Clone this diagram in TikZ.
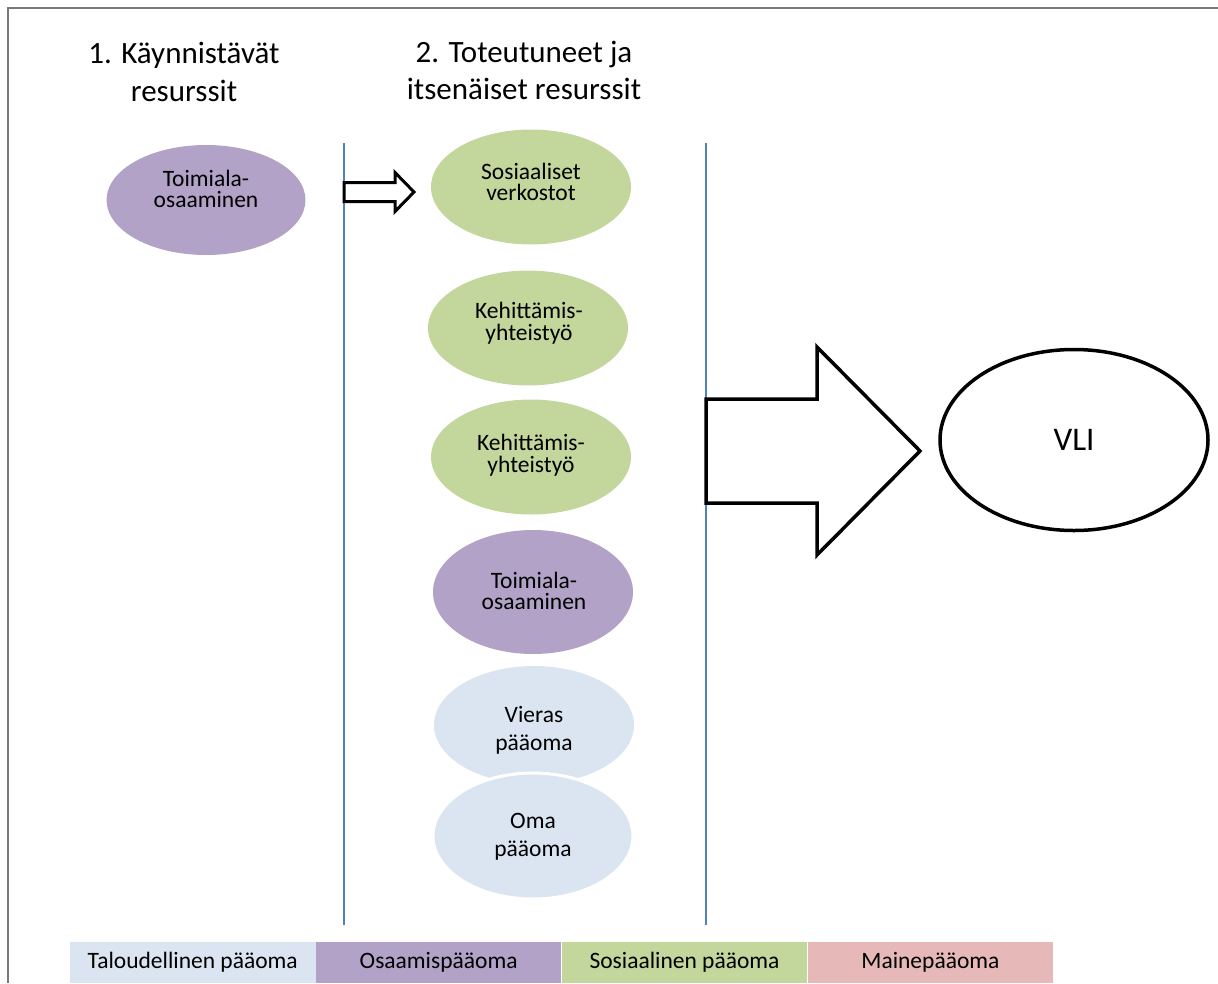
\documentclass[tikz,border=0pt]{standalone}
\usepackage{fontspec}
\setmainfont{Carlito}
\usetikzlibrary{shapes.geometric}
\definecolor{osaam}{HTML}{B2A2C7}
\definecolor{sosiaal}{HTML}{C3D69B}
\definecolor{talous}{HTML}{DBE5F1}
\definecolor{maine}{HTML}{E6B9B8}
\definecolor{rajaviiva}{HTML}{4F81BD}
\tikzset{
  res/.style={ellipse, inner sep=0pt, minimum width=200pt, minimum height=115pt},
  restext/.style={align=center, inner sep=0pt, font=\fontsize{23.5}{21.5}\selectfont},
  restextv/.style={restext, font=\fontsize{23.5}{28}\selectfont},
  otsikko/.style={align=center, inner sep=0pt, font=\fontsize{31}{38}\selectfont},
  raja/.style={draw=rajaviiva, line width=2.6pt},
  nuoli/.style={draw=black, fill=white, line width=3.5pt, line join=miter},
  selite/.style={minimum width=245.5pt, minimum height=41pt, inner sep=0pt,
    font=\fontsize{23.5}{25}\selectfont},
}
\begin{document}
\begin{tikzpicture}[x=1pt, y=-1pt]
\useasboundingbox (0,0) rectangle (1218,983);
% outer frame
\draw[gray!95!black, line width=2pt] (8,983) -- (8,7.5) -- (1218,7.5);

% column headings
\node[otsikko] (h1) at (184,72) {1. Käynnistävät\\resurssit};
\node[otsikko, font=\fontsize{31}{37}\selectfont] (h2) at (524,70) {2. Toteutuneet ja\\itsenäiset resurssit};

% starting resource
\node[res, fill=osaam, minimum width=199pt, minimum height=110pt] (t1) at (206,200) {};
\node[restext] (t1t) at (206,189) {Toimiala-\\osaaminen};

% dividing lines
\coordinate (r1a) at (344,143); \coordinate (r1b) at (344,925);
\coordinate (r2a) at (706,143); \coordinate (r2b) at (706,925);
\draw[raja] (r1a) -- (r1b);
\draw[raja] (r2a) -- (r2b);

% realised resources
\node[res, fill=sosiaal] (s1) at (531,187) {};
\node[restext] (s1t) at (531,182) {Sosiaaliset\\verkostot};
\node[res, fill=sosiaal] (s2) at (528,328) {};
\node[restext] (s2t) at (529,323) {Kehittämis-\\yhteistyö};
\node[res, fill=sosiaal] (s3) at (531,457) {};
\node[restext] (s3t) at (531,455) {Kehittämis-\\yhteistyö};
\node[res, fill=osaam, minimum height=124pt] (t2) at (533,592) {};
\node[restext] (t2t) at (534,591) {Toimiala-\\osaaminen};
\node[res, fill=talous, minimum height=118pt] (v) at (534,725) {};
\node[restextv] (vt) at (534,730) {Vieras\\pääoma};
\node[res, fill=talous, draw=white, line width=3pt, minimum height=126pt] (o) at (533,836) {};
\node[restextv] (ot) at (533,837) {Oma\\pääoma};

% small block arrow
\coordinate (pa) at (344,192);
\draw[nuoli, line width=3pt] (pa) ++(0,-9.5) -- ++(51,0) -- ++(0,-10) -- ++(19,19.5)
  -- ++(-19,19.5) -- ++(0,-10) -- ++(-51,0) -- cycle;

% outcome
\node[ellipse, draw=black, line width=3.5pt, inner sep=0pt, minimum width=268pt,
  minimum height=181pt, font=\fontsize{33}{35}\selectfont] (vli) at (1074,440) {VLI};

% large block arrow
\coordinate (ia) at (706,451);
\draw[nuoli] (ia) ++(0,-52) -- ++(111,0) -- ++(0,-52) -- ++(103,104)
  -- ++(-103,104) -- ++(0,-52) -- ++(-111,0) -- cycle;

% legend
\node[selite, fill=talous] (l1) at (192.75,962.5) {Taloudellinen pääoma};
\node[selite, fill=osaam, anchor=west] (l2) at (l1.east) {Osaamispääoma};
\node[selite, fill=sosiaal, anchor=west] (l3) at (l2.east) {Sosiaalinen pääoma};
\node[selite, fill=maine, anchor=west] (l4) at (l3.east) {Mainepääoma};
\end{tikzpicture}
\end{document}
